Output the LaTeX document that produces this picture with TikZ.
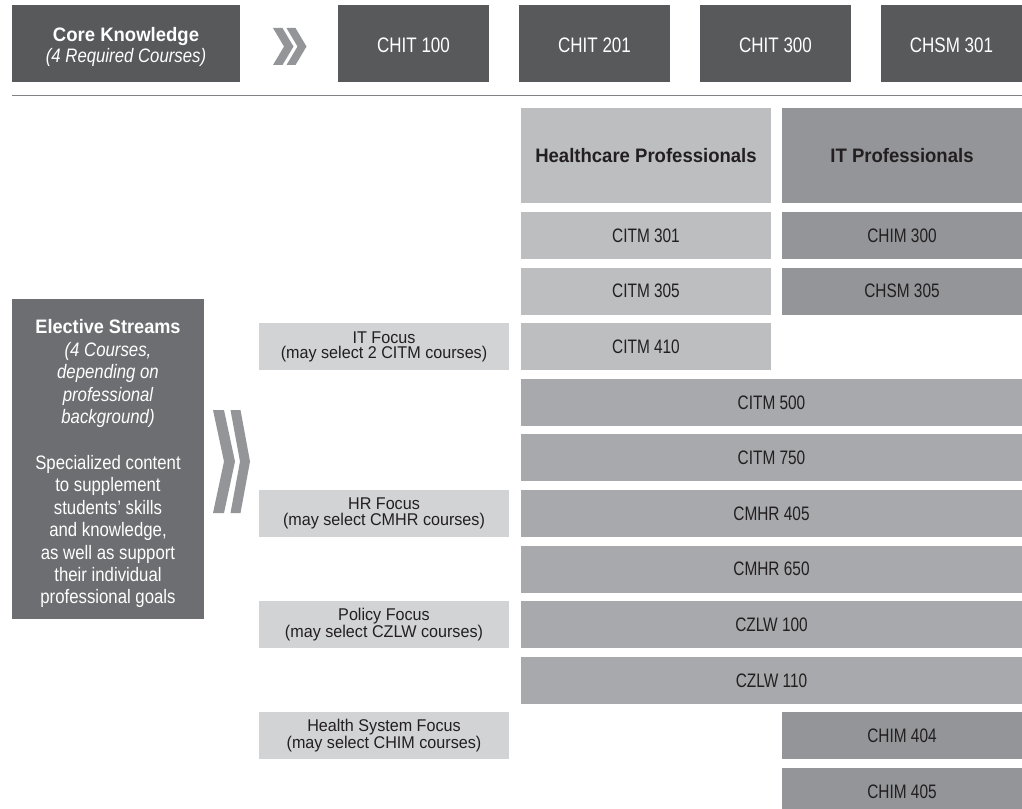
\documentclass[tikz,border=0pt]{standalone}
\usepackage{fontspec}
\setmainfont{Liberation Sans}
\newfontfamily\cnd[FakeStretch=0.79]{Liberation Sans}
\newfontfamily\toprowfont[FakeStretch=0.81]{Liberation Sans}
\newfontfamily\els[FakeStretch=0.86]{Liberation Sans}
\newfontfamily\fcs[FakeStretch=0.95]{Liberation Sans}
\newfontfamily\fb[FakeStretch=0.95]{Liberation Sans}
\newfontfamily\fbe[FakeStretch=0.93]{Liberation Sans}
\definecolor{darkg}{HTML}{58595B}
\definecolor{elecg}{HTML}{6D6E71}
\definecolor{chevg}{HTML}{939598}
\definecolor{hcg}{HTML}{BCBEC0}
\definecolor{itg}{HTML}{939598}
\definecolor{wideg}{HTML}{A7A9AC}
\definecolor{focusg}{HTML}{D1D3D4}
\definecolor{ink}{HTML}{231F20}
\definecolor{ruleg}{HTML}{808285}
\tikzset{
  base/.style={anchor=north west, inner sep=0pt, outer sep=0pt, align=center},
  darkbox/.style={base, fill=darkg, text=white, minimum height=77pt, font={\toprowfont\fontsize{21}{21}\selectfont}},
  chit/.style={darkbox, minimum width=151pt, text height=18pt, text depth=0pt},
  elecbox/.style={base, fill=elecg, text=white, minimum width=192pt, minimum height=320pt, font={\els\fontsize{19.5}{22.4}\selectfont}},
  hdr/.style={base, minimum height=95pt, text=ink, font={\fb\bfseries\fontsize{19.5}{21}\selectfont}},
  course/.style={base, minimum height=47pt, text=ink, font={\cnd\fontsize{19.5}{20}\selectfont}},
  hc/.style={course, fill=hcg, minimum width=250pt},
  itp/.style={course, fill=itg, minimum width=240pt},
  wide/.style={course, fill=wideg, minimum width=501pt},
  focus/.style={base, fill=focusg, text=ink, minimum width=250pt, minimum height=47pt, font={\fcs\fontsize{17}{15.5}\selectfont}},
  chev/.style={fill=chevg}
}
\begin{document}
\begin{tikzpicture}[x=1pt,y=-1pt]
\useasboundingbox (0,0) rectangle (1022,808);
% core row
\node[darkbox, minimum width=228pt] (core) at (12,5) {{\fb\bfseries\fontsize{19.5}{21.6}\selectfont\rule{0pt}{22pt}Core Knowledge}\\{\els\fontsize{19.5}{21.6}\selectfont\itshape (4 Required Courses)}};
\fill[chev] (273,28) -- (282.5,28) -- (293.5,46.5) -- (282.5,65) -- (273,65) -- (284,46.5) -- cycle;
\fill[chev] (286.5,28) -- (295.5,28) -- (306.5,46.5) -- (295.5,65) -- (286.5,65) -- (297.5,46.5) -- cycle;
\node[chit] (c1) at (338,5) {CHIT 100};
\node[chit] (c2) at (519,5) {CHIT 201};
\node[chit] (c3) at (700,5) {CHIT 300};
\node[chit, minimum width=141pt] (c4) at (881,5) {CHSM 301};
\draw[ruleg, line width=1.2pt] (12,95.5) -- (1022,95.5);
% electives
\node[elecbox] (elec) at (12,299) {{\fbe\bfseries\rule{0pt}{24pt}Elective Streams}\\{\itshape (4 Courses,}\\{\itshape depending on}\\{\itshape professional}\\{\itshape background)}\\[23.6pt]Specialized content\\to supplement\\students’ skills\\and knowledge,\\as well as support\\their individual\\professional goals};
\fill[chev] (213,410) -- (224,410) -- (235,461.5) -- (224,513) -- (213,513) -- (224,461.5) -- cycle;
\fill[chev] (230.5,410) -- (240.5,410) -- (250,461.5) -- (240.5,513) -- (230.5,513) -- (240,461.5) -- cycle;
% headers
\node[hdr, fill=hcg, minimum width=250pt] (hhc) at (521,108) {Healthcare Professionals};
\node[hdr, fill=itg, minimum width=240pt] (hit) at (782,108) {IT Professionals};
% courses
\node[hc] (citm301) at (521,212) {CITM 301};
\node[itp] (chim300) at (782,212) {CHIM 300};
\node[hc] (citm305) at (521,267.6) {CITM 305};
\node[itp] (chsm305) at (782,267.6) {CHSM 305};
\node[hc] (citm410) at (521,323.2) {CITM 410};
\node[wide] (citm500) at (521,378.8) {CITM 500};
\node[wide] (citm750) at (521,434.4) {CITM 750};
\node[wide] (cmhr405) at (521,490) {CMHR 405};
\node[wide] (cmhr650) at (521,545.6) {CMHR 650};
\node[wide] (czlw100) at (521,601.2) {CZLW 100};
\node[wide] (czlw110) at (521,656.8) {CZLW 110};
\node[itp] (chim404) at (782,712.4) {CHIM 404};
\node[itp] (chim405) at (782,768) {CHIM 405};
% focus labels
\node[focus] (fit) at (259,323.2) {IT Focus\\(may select 2 CITM courses)};
\node[focus] (fhr) at (259,490) {HR Focus\\(may select CMHR courses)};
\node[focus] (fpol) at (259,601.2) {Policy Focus\\(may select CZLW courses)};
\node[focus] (fhs) at (259,712.4) {Health System Focus\\(may select CHIM courses)};
\end{tikzpicture}
\end{document}
